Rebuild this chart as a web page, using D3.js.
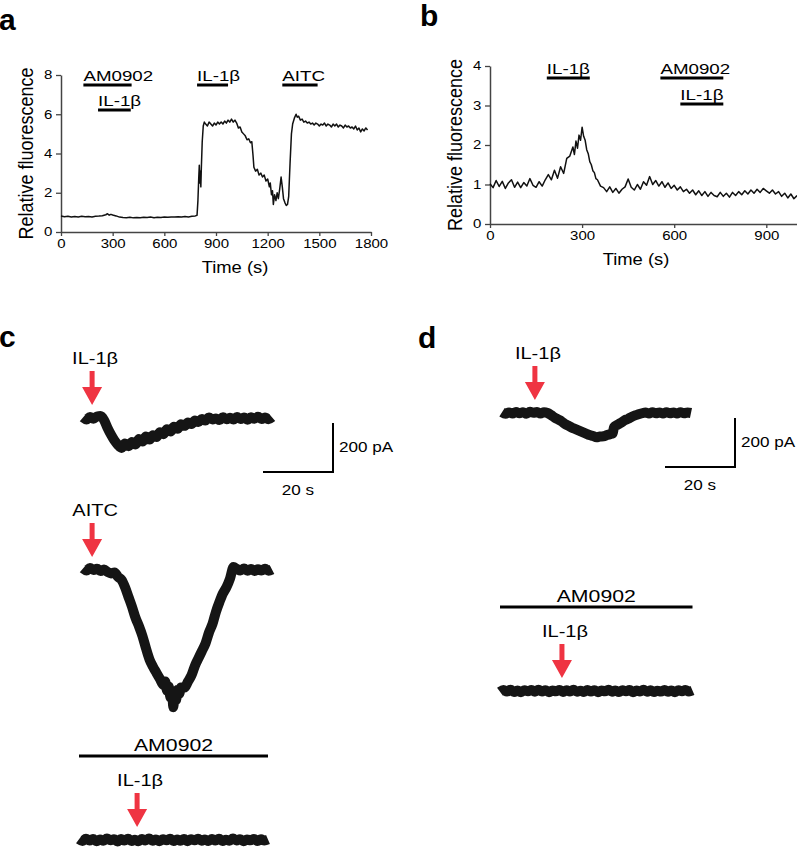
<!DOCTYPE html>
<html>
<head>
<meta charset="utf-8">
<script src="https://cdnjs.cloudflare.com/ajax/libs/d3/7.8.5/d3.min.js"></script>
<style>
  body { margin: 0; background: #fff; }
  svg { display: block; font-family: "Liberation Sans", Arial, sans-serif; }
</style>
</head>
<body>
<div id="chart"></div>
<script>
// ---- panel a : calcium imaging, relative fluorescence vs time (s)
var aTrace = [
  [0,0.82],[20,0.78],[40,0.80],[60,0.76],[80,0.79],[100,0.77],[120,0.80],[140,0.78],[160,0.79],[180,0.77],
  [200,0.80],[220,0.81],[240,0.83],[260,0.88],[270,0.93],[280,0.86],[290,0.90],[300,0.87],[320,0.82],[340,0.76],
  [360,0.74],[380,0.73],[400,0.75],[420,0.72],[440,0.74],[460,0.73],[480,0.75],[500,0.74],[520,0.76],[540,0.73],
  [560,0.75],[580,0.74],[600,0.76],[620,0.75],[640,0.77],[660,0.76],[680,0.78],[700,0.76],[720,0.79],[740,0.77],
  [760,0.80],[780,0.82],[790,0.85],[795,1.6],[800,2.8],[803,3.4],[806,2.5],[809,3.1],[812,2.3],[815,3.3],
  [820,4.6],[826,5.4],[832,5.6],[840,5.5],[850,5.4],[860,5.6],[870,5.5],[880,5.4],[890,5.55],[900,5.45],
  [910,5.6],[920,5.5],[930,5.6],[940,5.5],[950,5.65],[960,5.55],[970,5.7],[980,5.6],[990,5.75],[1000,5.6],
  [1010,5.7],[1020,5.55],[1030,5.3],[1040,5.35],[1050,5.1],[1060,5.0],[1070,4.9],[1080,4.7],[1090,4.75],[1100,4.55],
  [1108,4.6],[1115,3.9],[1120,3.3],[1130,3.1],[1140,3.2],[1150,2.9],[1160,3.0],[1170,2.8],[1180,2.9],[1190,2.6],
  [1200,2.7],[1210,2.3],[1215,2.5],[1222,1.9],[1228,2.1],[1233,1.4],[1240,1.9],[1248,1.6],[1255,2.0],[1262,1.7],
  [1270,2.2],[1278,2.8],[1285,2.3],[1292,1.7],[1300,1.5],[1308,1.35],[1315,1.4],[1322,1.8],[1330,3.5],[1338,5.0],
  [1345,5.5],[1355,5.8],[1365,6.0],[1372,5.85],[1380,5.9],[1390,5.7],[1400,5.75],[1410,5.6],[1420,5.65],[1430,5.55],
  [1440,5.6],[1450,5.5],[1460,5.55],[1470,5.45],[1480,5.55],[1490,5.5],[1500,5.4],[1510,5.5],[1520,5.45],[1530,5.55],
  [1540,5.4],[1550,5.5],[1560,5.45],[1570,5.35],[1580,5.5],[1590,5.4],[1600,5.5],[1610,5.35],[1620,5.45],[1630,5.4],
  [1640,5.3],[1650,5.45],[1660,5.35],[1670,5.4],[1680,5.3],[1690,5.35],[1700,5.25],[1710,5.4],[1720,5.2],[1730,5.3],
  [1740,5.1],[1750,5.25],[1760,5.15],[1770,5.3],[1780,5.2]
];
var aBarLabels = ["AM0902", "IL-1β", "IL-1β", "AITC"];
var aBarStart = [130, 215, 790, 1285];
var aBarEnd = [410, 405, 970, 1490];
var aXTicks = [0, 300, 600, 900, 1200, 1500, 1800];
var aYTicks = [0, 2, 4, 6, 8];

// ---- panel b
var bTrace = [
  [0,1.02],[10,0.92],[20,1.10],[30,0.95],[40,1.08],[50,0.90],[60,1.04],[70,1.12],[80,0.93],[90,1.06],
  [100,0.92],[110,1.05],[120,0.96],[130,1.15],[140,0.98],[150,0.93],[160,1.07],[170,0.96],[180,1.12],[190,1.25],
  [200,1.12],[210,1.36],[220,1.16],[230,1.45],[240,1.28],[250,1.66],[260,1.72],[270,1.95],[275,1.76],[280,2.10],
  [285,1.92],[290,2.25],[295,2.12],[300,2.45],[305,2.22],[310,2.12],[315,1.88],[320,1.78],[325,1.58],[330,1.50],
  [335,1.35],[340,1.30],[345,1.15],[350,1.12],[360,0.96],[370,0.92],[380,0.82],[390,0.94],[400,0.80],[410,0.90],
  [420,0.78],[430,0.88],[440,0.94],[450,1.14],[460,0.93],[470,0.86],[480,1.00],[490,0.88],[500,1.07],[510,0.98],
  [520,1.20],[530,1.00],[540,1.10],[550,0.96],[560,1.07],[570,0.93],[580,1.04],[590,0.90],[600,0.98],[610,0.86],
  [620,0.94],[630,0.82],[640,0.88],[650,0.78],[660,0.86],[670,0.74],[680,0.84],[690,0.72],[700,0.82],[710,0.70],
  [720,0.80],[730,0.72],[740,0.69],[750,0.80],[760,0.70],[770,0.78],[780,0.68],[790,0.80],[800,0.72],[810,0.82],
  [820,0.74],[830,0.84],[840,0.76],[850,0.86],[860,0.78],[870,0.88],[880,0.80],[890,0.90],[900,0.84],[910,0.78],
  [920,0.86],[930,0.76],[940,0.82],[950,0.70],[960,0.78],[970,0.66],[980,0.76],[990,0.64],[1000,0.72]
];
var bBarLabels = ["IL-1β", "AM0902", "IL-1β"];
var bBarStart = [185, 555, 620];
var bBarEnd = [325, 760, 760];
var bXTicks = [0, 300, 600, 900];
var bYTicks = [0, 1, 2, 3, 4];

// ---- panels c, d : whole-cell currents, [time (s), current (pA)]
var cTraceIL = [
  [0,2],[1,-6],[2,4],[3,-3],[4,6],[5,8],[6,-8],[7,-40],[8,-68],[9,-92],[10,-110],[11,-122],[12,-104],[13,-115],
  [14,-98],[15,-108],[16,-86],[17,-96],[18,-76],[19,-88],[20,-70],[21,-78],[22,-58],[23,-66],[24,-46],[25,-55],
  [26,-36],[27,-44],[28,-26],[29,-32],[30,-18],[31,-24],[32,-10],[33,-16],[34,-4],[35,-10],[36,2],[37,-6],[38,-2],
  [39,-8],[40,3],[41,-5],[42,1],[43,-6],[44,4],[45,-4],[46,2],[47,-7],[48,3],[49,-3],[50,5],[51,-4],[52,2],[53,-5],[54,3]
];
var cTraceAITC = [
  [0,6],[1,-2],[2,8],[3,0],[4,5],[5,-4],[6,2],[7,-8],[8,-14],[9,-10],[10,-28],[11,-40],[12,-70],[13,-110],
  [14,-150],[15,-195],[16,-230],[17,-270],[18,-320],[19,-365],[20,-395],[21,-420],[22,-445],[23,-470],[23.5,-455],
  [24,-492],[24.5,-475],[25,-520],[25.5,-505],[25.8,-560],[26.2,-500],[26.6,-530],[27,-490],[27.5,-505],[28,-480],
  [29,-480],[30,-455],[31,-430],[32,-390],[33,-360],[34,-330],[35,-300],[36,-255],[37,-220],[38,-170],[39,-130],
  [40,-95],[41,-70],[42,-35],[43,12],[44,4],[45,-2],[46,6],[47,-3],[48,4],[49,-4],[50,3],[51,-2],[52,5],[53,-3],[54,2]
];
var cTraceAM = [
  [0,3],[1,-4],[2,5],[3,-2],[4,4],[5,-5],[6,2],[7,-3],[8,6],[9,-1],[10,3],[11,-6],[12,4],[13,-2],[14,5],[15,-4],
  [16,1],[17,-5],[18,4],[19,-2],[20,6],[21,-3],[22,2],[23,-5],[24,3],[25,-1],[26,5],[27,-4],[28,2],[29,-3],[30,4],
  [31,-5],[32,3],[33,-1],[34,5],[35,-3],[36,2],[37,-4],[38,4],[39,-2],[40,5],[41,-4],[42,1],[43,-3],[44,6],[45,-2],
  [46,3],[47,-5],[48,2],[49,-1],[50,4],[51,-4],[52,3],[53,-2],[54,2]
];
var dTraceIL = [
  [0,3],[1,-3],[2,2],[3,-2],[4,4],[5,-1],[6,3],[7,-3],[8,5],[9,1],[10,4],[11,-2],[12,3],[13,0],[14,-8],[15,-18],
  [16,-26],[17,-34],[18,-45],[19,-52],[20,-60],[21,-66],[22,-72],[23,-78],[24,-84],[25,-90],[26,-94],[27,-99],
  [28,-96],[29,-95],[30,-90],[31,-86],[31.6,-84],[32,-58],[33,-48],[34,-40],[35,-30],[36,-24],[37,-16],[38,-10],
  [39,-5],[40,-1],[41,2],[42,-2],[43,3],[44,-1],[45,2],[46,-2],[47,3],[48,-1],[49,2],[50,-2],[51,3],[52,-1],[53,2],[54,0]
];
var dTraceAM = [
  [0,-3],[1,4],[2,-2],[3,5],[4,-4],[5,2],[6,-5],[7,3],[8,-1],[9,4],[10,-3],[11,5],[12,-2],[13,3],[14,-5],[15,2],
  [16,-1],[17,4],[18,-4],[19,3],[20,-2],[21,5],[22,-3],[23,1],[24,-4],[25,4],[26,-2],[27,3],[28,-5],[29,2],[30,-1],
  [31,5],[32,-3],[33,2],[34,-4],[35,3],[36,-1],[37,4],[38,-5],[39,2],[40,-2],[41,5],[42,-3],[43,3],[44,-4],[45,1],
  [46,-2],[47,4],[48,-3],[49,2],[50,-5],[51,3],[52,-1],[53,4],[54,-2],[55,2]
];
var cArrowLabels = ["IL-1β", "AITC", "IL-1β"];
var cArrowTimes = [2.6, 2.6, 16.6];
var dArrowLabels = ["IL-1β", "IL-1β"];
var dArrowTimes = [9.4, 17.7];
var scaleBarTime = 20;     // s
var scaleBarCurrent = 200; // pA

var W = 797, H = 853;
var SX = 1.25;           // the figure's lettering is widened
var PX_PER_S = 3.5;
var PX_PER_PA = 0.245;
var RED = '#ef3442';

var svg = d3.select('#chart').append('svg')
  .attr('width', W)
  .attr('height', H);
svg.append('rect').attr('width', W).attr('height', H).attr('fill', '#fff');

function label(g, x, y, str, size, anchor, sx) {
  return g.append('text')
    .attr('transform', 'translate(' + [x, y] + ') scale(' + (sx || SX) + ',1)')
    .attr('text-anchor', anchor || 'start')
    .attr('font-size', size)
    .attr('fill', '#000')
    .text(str);
}

function panelLetter(x, y, str) {
  svg.append('text')
    .attr('x', x).attr('y', y)
    .attr('font-size', 30)
    .attr('font-weight', 'bold')
    .text(str);
}

// Fluorescence panel (a, b)
function drawFluo(o) {
  var g = svg.append('g');
  var x = d3.scaleLinear().domain(o.xDomain).range(o.xRange);
  var y = d3.scaleLinear().domain(o.yDomain).range(o.yRange);
  var fmt = d3.format('d');

  var xAxis = g.append('g')
    .attr('transform', 'translate(0,' + o.yRange[0] + ')')
    .call(d3.axisBottom(x).tickValues(o.xTicks).tickFormat(fmt).tickSize(4).tickSizeOuter(0).tickPadding(3));
  var yAxis = g.append('g')
    .attr('transform', 'translate(' + o.xRange[0] + ',0)')
    .call(d3.axisLeft(y).tickValues(o.yTicks).tickFormat(fmt).tickSize(5).tickSizeOuter(0).tickPadding(2));

  [xAxis, yAxis].forEach(function(ax) {
    ax.select('.domain').attr('stroke', '#444').attr('stroke-width', 1.5);
    ax.selectAll('.tick line').attr('stroke', '#444').attr('stroke-width', 1.3);
    ax.selectAll('.tick text')
      .attr('font-size', 12)
      .attr('font-family', '"Liberation Sans", Arial, sans-serif')
      .attr('fill', '#000')
      .attr('transform', 'scale(' + SX + ',1)');
  });
  xAxis.selectAll('.tick text').attr('x', 0);

  var line = d3.line()
    .x(function(d) { return x(d[0]); })
    .y(function(d) { return y(d[1]); });
  g.append('path')
    .datum(o.trace)
    .attr('d', line)
    .attr('fill', 'none')
    .attr('stroke', '#111')
    .attr('stroke-width', 1.5)
    .attr('stroke-linejoin', 'round');

  // application bars: a bar that overlaps the previous one drops to the second row
  o.barLabels.forEach(function(name, i) {
    var row = (i > 0 && o.barStart[i] < o.barEnd[i - 1]) ? 1 : 0;
    var by = o.barTop + row * o.rowGap;
    g.append('line')
      .attr('x1', x(o.barStart[i])).attr('x2', x(o.barEnd[i]))
      .attr('y1', by).attr('y2', by)
      .attr('stroke', '#000').attr('stroke-width', 3);
    label(g, x(o.barStart[i]), by - 4, name, 15, 'start');
  });

  label(g, o.timeX, o.yRange[0] + 41, 'Time (s)', 16, 'middle', 1.15);
  g.append('text')
    .attr('transform', 'translate(' + [o.titleX, (o.yRange[0] + o.yRange[1]) / 2] + ') scale(1.1,1) rotate(-90)')
    .attr('text-anchor', 'middle')
    .attr('font-size', 18)
    .text('Relative fluorescence');
}

drawFluo({
  trace: aTrace, xDomain: [0, 1800], xRange: [61, 371], yDomain: [0, 8], yRange: [232, 75],
  xTicks: aXTicks, yTicks: aYTicks, barLabels: aBarLabels, barStart: aBarStart, barEnd: aBarEnd,
  barTop: 85, rowGap: 25, titleX: 33, timeX: 235
});
drawFluo({
  trace: bTrace, xDomain: [0, 1000], xRange: [490, 797], yDomain: [0, 4], yRange: [224, 66],
  xTicks: bXTicks, yTicks: bYTicks, barLabels: bBarLabels, barStart: bBarStart, barEnd: bBarEnd,
  barTop: 78, rowGap: 26, titleX: 462, timeX: 636
});

// Current trace (c, d)
function drawCurrent(data, x0, y0, arrowT, arrowName, amBar) {
  var g = svg.append('g');
  var tMax = d3.max(data, function(d) { return d[0]; });
  var x = d3.scaleLinear().domain([0, tMax]).range([x0, x0 + tMax * PX_PER_S]);
  var y = d3.scaleLinear().domain([0, -scaleBarCurrent]).range([y0, y0 + scaleBarCurrent * PX_PER_PA]);

  if (amBar) {
    g.append('line')
      .attr('x1', x(0)).attr('x2', x(tMax))
      .attr('y1', y0 - 84).attr('y2', y0 - 84)
      .attr('stroke', '#000').attr('stroke-width', 3);
    label(g, (x(0) + x(tMax)) / 2, y0 - 89, 'AM0902', 17, 'middle');
  }

  g.append('path')
    .datum(data)
    .attr('d', d3.line().curve(d3.curveMonotoneX)
      .x(function(d) { return x(d[0]); }).y(function(d) { return y(d[1]); }))
    .attr('fill', 'none')
    .attr('stroke', '#151515')
    .attr('stroke-width', 10)
    .attr('stroke-linejoin', 'round')
    .attr('stroke-linecap', 'butt');

  // red arrow marking application
  var ax = x(arrowT), top = y0 - 47, tip = y0 - 13, neck = tip - 18;
  g.append('path')
    .attr('d', 'M' + [ax - 2.5, top] + 'L' + [ax + 2.5, top] + 'L' + [ax + 2.5, neck] + 'L' + [ax + 10, neck] +
      'L' + [ax, tip] + 'L' + [ax - 10, neck] + 'L' + [ax - 2.5, neck] + 'Z')
    .attr('fill', RED);
  label(g, ax + 3, y0 - 54, arrowName, 16, 'middle');
  return { x: x, y: y };
}

function drawScaleBar(s, cx, cy) {
  var g = svg.append('g');
  var w = s.x(scaleBarTime) - s.x(0);
  var h = s.y(-scaleBarCurrent) - s.y(0);
  g.append('path')
    .attr('d', 'M' + [cx - w, cy] + 'L' + [cx, cy] + 'L' + [cx, cy - h])
    .attr('fill', 'none')
    .attr('stroke', '#000')
    .attr('stroke-width', 2);
  label(g, cx + 6, cy - 20, scaleBarCurrent + ' pA', 15, 'start', 1.14);
  label(g, cx - w / 2, cy + 23, scaleBarTime + ' s', 15, 'middle', 1.14);
}

var sc = drawCurrent(cTraceIL, 83, 418, cArrowTimes[0], cArrowLabels[0], false);
drawCurrent(cTraceAITC, 83, 570, cArrowTimes[1], cArrowLabels[1], false);
drawCurrent(cTraceAM, 79, 840, cArrowTimes[2], cArrowLabels[2], true);
drawScaleBar(sc, 333, 472);

var sd = drawCurrent(dTraceIL, 502, 413, dArrowTimes[0], dArrowLabels[0], false);
drawCurrent(dTraceAM, 500, 691, dArrowTimes[1], dArrowLabels[1], true);
drawScaleBar(sd, 735, 467);

panelLetter(-1, 30, 'a');
panelLetter(420, 26, 'b');
panelLetter(-1, 347, 'c');
panelLetter(418, 348, 'd');
</script>
</body>
</html>
